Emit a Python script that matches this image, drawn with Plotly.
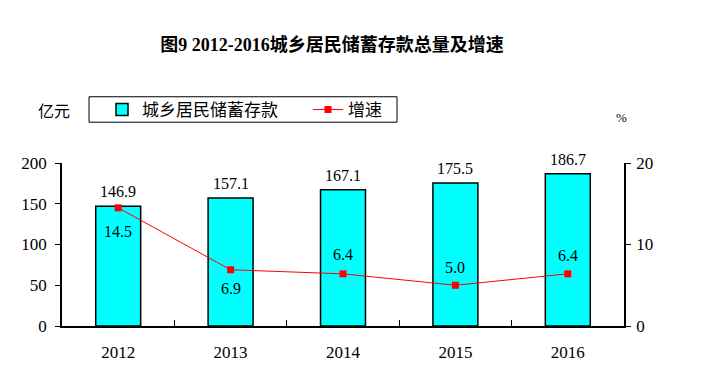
import plotly.graph_objects as go

years = ["2012", "2013", "2014", "2015", "2016"]
deposits = [146.9, 157.1, 167.1, 175.5, 186.7]
growth = [14.5, 6.9, 6.4, 5.0, 6.4]
growth_label_shift = [-24, -19, 19, 18, 18]

FONT = "Liberation Serif, Noto Sans CJK SC, serif"
CJK = "Noto Sans CJK SC, sans-serif"

# page body has an 8px margin: work in reference pixel coords and subtract it
OFF = 8
PL, PR, PT, PB = 62, 624, 162.7, 329.3  # plot area in reference pixels


def px(xr):
    return (xr - PL) / (PR - PL)


def py(yr):
    return (PB - yr) / (PB - PT)


fig = go.Figure()
fig.add_trace(go.Bar(
    x=years, y=deposits, name="城乡居民储蓄存款", width=0.4,
    marker=dict(color="#00FFFF", line=dict(color="black", width=1.5)),
    yaxis="y", legend="legend",
))
fig.add_trace(go.Scatter(
    x=years, y=growth, name="增速", mode="lines+markers",
    line=dict(color="#FF0000", width=1),
    marker=dict(symbol="square", size=7, color="#FF0000"),
    yaxis="y2", legend="legend2",
))

annotations = []
# category axis: annotation x given as category index
for i, v in enumerate(deposits):
    annotations.append(dict(x=i, y=v, xref="x", yref="y", text=f"{v:.1f}",
                            showarrow=False, yanchor="bottom", yshift=4,
                            font=dict(family=FONT, size=16, color="black")))
for i, (g, s) in enumerate(zip(growth, growth_label_shift)):
    annotations.append(dict(x=i, y=g, xref="x", yref="y2", text=f"{g:.1f}",
                            showarrow=False, yanchor="middle", yshift=s,
                            font=dict(family=FONT, size=16, color="black")))
annotations.append(dict(x=px(54), y=py(109), xref="paper", yref="paper", text="亿元",
                        showarrow=False, xanchor="center", yanchor="middle",
                        font=dict(family=CJK, size=16, color="black")))
annotations.append(dict(x=px(621.7), y=py(116.7), xref="paper", yref="paper", text="%",
                        showarrow=False, xanchor="center", yanchor="middle",
                        font=dict(family=FONT, size=13, color="black")))

legend_common = dict(orientation="h", yanchor="middle", y=py(108.5), xanchor="left",
                     borderwidth=0, bgcolor="rgba(0,0,0,0)",
                     font=dict(family=CJK, size=17, color="black"))

fig.update_layout(
    width=708, height=366,
    margin=dict(l=PL - OFF, r=708 - (PR - OFF), t=PT - OFF, b=366 - (PB - OFF)),
    paper_bgcolor="white", plot_bgcolor="white",
    title=dict(text="<b>图9 2012-2016城乡居民储蓄存款总量及增速</b>",
               x=(332 - OFF) / 708, xanchor="center", xref="container",
               y=1 - (45 - OFF) / 366, yanchor="middle", yref="container",
               font=dict(family=FONT, size=18, color="black")),
    showlegend=True,
    legend=dict(x=px(102), **legend_common),
    legend2=dict(x=px(308), **legend_common),
    shapes=[dict(type="rect", xref="paper", yref="paper",
                 x0=px(89), x1=px(397), y0=py(121), y1=py(95),
                 line=dict(color="black", width=1), fillcolor="rgba(0,0,0,0)", layer="below")],
    xaxis=dict(type="category", range=[-0.5, 4.5], showline=True, linecolor="black", linewidth=1.5,
               ticks="inside", tickson="boundaries", ticklen=6, tickcolor="black",
               ticklabelstandoff=10,
               showgrid=False, tickfont=dict(family=FONT, size=17, color="black")),
    yaxis=dict(range=[0, 200], dtick=50, showline=True, linecolor="black", linewidth=1.5,
               ticks="outside", ticklen=5, tickcolor="black", showgrid=False, zeroline=False,
               ticklabelstandoff=5,
               tickfont=dict(family=FONT, size=17, color="black")),
    yaxis2=dict(range=[0, 20], dtick=10, overlaying="y", side="right", showline=True,
                linecolor="black", linewidth=1.5, ticks="outside", ticklen=5,
                tickcolor="black", showgrid=False, zeroline=False, ticklabelstandoff=2,
                tickfont=dict(family=FONT, size=17, color="black")),
    annotations=annotations,
)

fig.write_html("out.html")
